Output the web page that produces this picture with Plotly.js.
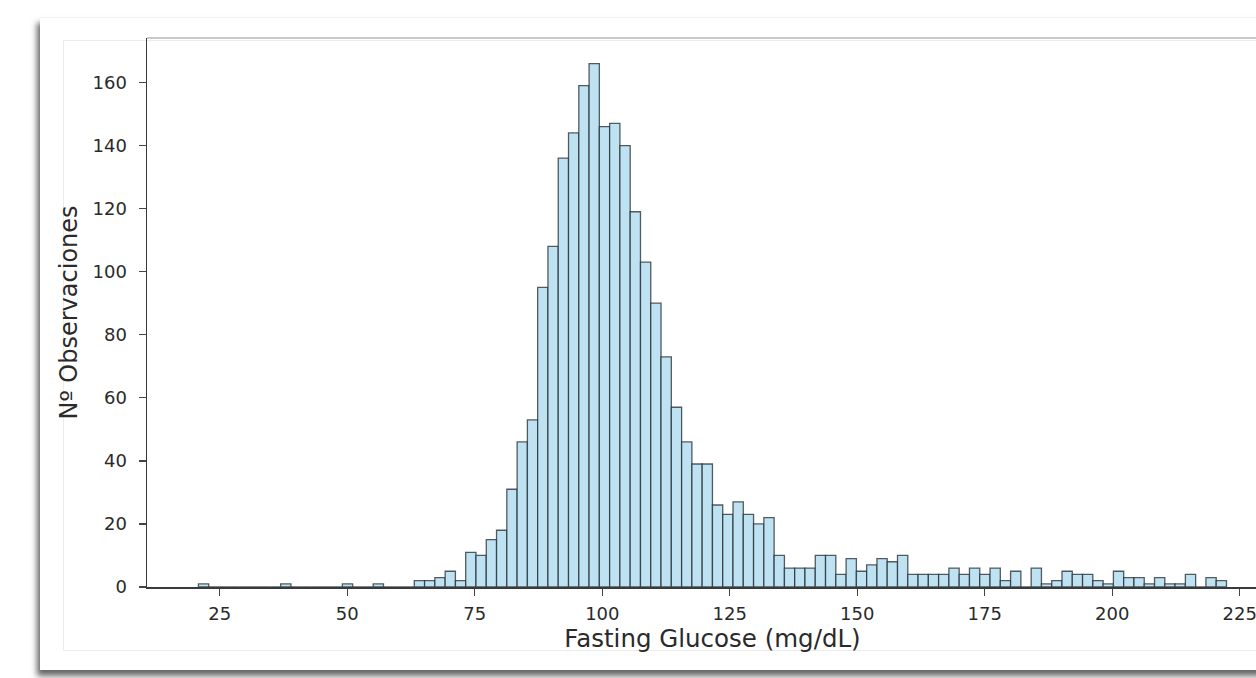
<!DOCTYPE html>
<html>
<head>
<meta charset="utf-8">
<script src="https://cdn.plot.ly/plotly-3.0.1.min.js"></script>
<style>
  html, body { margin: 0; padding: 0; width: 1256px; height: 678px; overflow: hidden; background: #ffffff; }
  #card { position: absolute; left: 40px; top: 17px; width: 1300px; height: 652px; background: #ffffff;
          border-top: 1px solid #f0f0f0;
          box-shadow: -3px 6px 6px rgba(0,0,0,0.6); }
  #fig { position: absolute; left: 63px; top: 40px; width: 1300px; height: 609px; border: 1px solid #ececec; background: #ffffff; }
  #chart { position: absolute; left: 0; top: 0; }
</style>
</head>
<body>
<div id="card"></div>
<div id="fig"></div>
<div id="chart"></div>
<script>
// Histogram bins (fasting glucose, mg/dL)
const binStart = 20.8;
const binWidth = 2.016;
const counts = [
  1, 0, 0, 0, 0, 0, 0, 0, 1, 0,
  0, 0, 0, 0, 1, 0, 0, 1, 0, 0,
  0, 2, 2, 3, 5, 2, 11, 10, 15, 18,
  31, 46, 53, 95, 108, 136, 144, 159, 166, 146,
  147, 140, 119, 103, 90, 73, 57, 46, 39, 39,
  26, 23, 27, 23, 20, 22, 10, 6, 6, 6,
  10, 10, 4, 9, 5, 7, 9, 8, 10, 4,
  4, 4, 4, 6, 4, 6, 4, 6, 2, 5,
  0, 6, 1, 2, 5, 4, 4, 2, 1, 5,
  3, 3, 1, 3, 1, 1, 4, 0, 3, 2
];
const xTicks = [25, 50, 75, 100, 125, 150, 175, 200, 225];
const yTicks = [0, 20, 40, 60, 80, 100, 120, 140, 160];
const xLabel = 'Fasting Glucose (mg/dL)';
const yLabel = 'Nº Observaciones';

const centers = counts.map((c, i) => binStart + (i + 0.5) * binWidth);

const trace = {
  type: 'bar',
  x: centers,
  y: counts,
  width: binWidth,
  marker: {
    color: '#bfe2f3',
    line: { color: 'rgba(30,40,45,0.75)', width: 1.3 }
  },
  hoverinfo: 'x+y'
};

const font = 'DejaVu Sans, sans-serif';
const layout = {
  width: 1300,
  height: 678,
  margin: { l: 147, r: 22, t: 38, b: 91 },
  paper_bgcolor: 'rgba(0,0,0,0)',
  plot_bgcolor: 'rgba(0,0,0,0)',
  showlegend: false,
  bargap: 0,
  xaxis: {
    range: [10.72, 232.5],
    tickmode: 'array',
    tickvals: xTicks,
    ticktext: xTicks.map(String),
    ticks: 'outside',
    ticklen: 7,
    tickwidth: 1.3,
    tickcolor: '#444',
    ticklabelstandoff: 3,
    showgrid: false,
    zeroline: false,
    showline: true,
    linecolor: '#3a3a3a',
    linewidth: 1.5,
    tickfont: { family: font, size: 18, color: '#2a2a2a' },
    title: { text: xLabel, font: { family: font, size: 24.5, color: '#2a2a2a' }, standoff: 7 },
    automargin: false
  },
  yaxis: {
    range: [0, 174.1],
    tickmode: 'array',
    tickvals: yTicks,
    ticktext: yTicks.map(String),
    ticks: 'outside',
    ticklen: 7,
    tickwidth: 1.3,
    tickcolor: '#444',
    ticklabelstandoff: 8,
    showgrid: false,
    zeroline: false,
    showline: true,
    linecolor: '#3a3a3a',
    linewidth: 1.5,
    tickfont: { family: font, size: 18, color: '#2a2a2a' },
    title: { text: yLabel, font: { family: font, size: 24, color: '#2a2a2a' }, standoff: 8 },
    automargin: false
  },
  shapes: [
    { type: 'line', xref: 'paper', yref: 'paper', x0: 0, x1: 1, y0: 1, y1: 1,
      line: { color: '#c9c9c9', width: 2 } }
  ]
};

Plotly.newPlot('chart', [trace], layout, { displayModeBar: false, staticPlot: true });
</script>
</body>
</html>
